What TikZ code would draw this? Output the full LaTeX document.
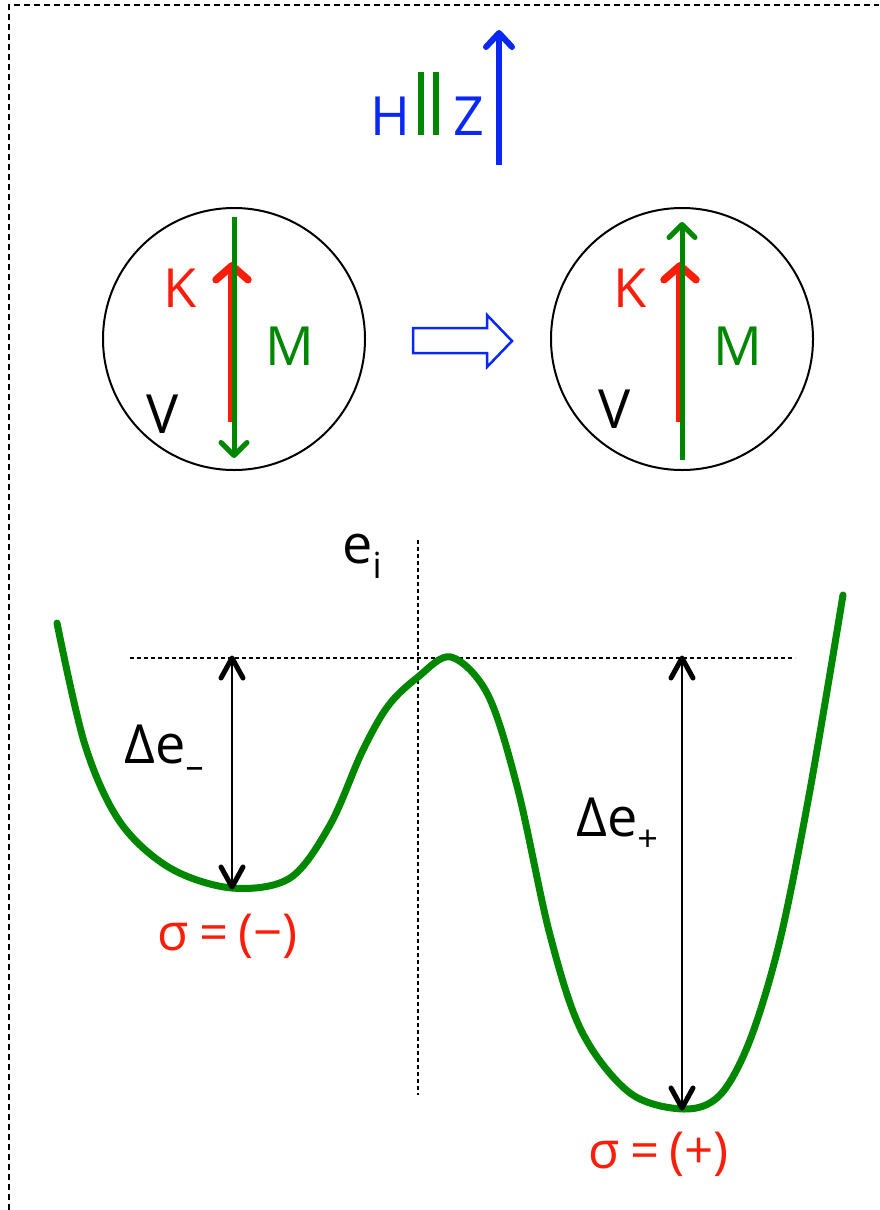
\documentclass[tikz,border=0pt]{standalone}
\usepackage{fontspec}
\setmainfont{Open Sans}
\usetikzlibrary{arrows.meta}

\definecolor{fieldblue}{RGB}{10,40,245}
\definecolor{spingreen}{RGB}{0,135,0}
\definecolor{orbred}{RGB}{250,30,10}

\newcommand{\lowidx}[1]{\raisebox{-0.28em}{\fontsize{36}{38}\selectfont #1}}

\begin{document}
\begin{tikzpicture}[
    x=1pt, y=-1pt,
    big/.style={font=\fontsize{54}{58}\selectfont, inner sep=0pt, anchor=base},
    ring/.style={draw, line width=2pt},
    spinarrow/.style={line width=5pt, spingreen, -{Straight Barb[length=13pt, width=26pt, round]}},
    orbarrow/.style={line width=7.5pt, orbred, -{Straight Barb[length=14pt, width=32pt, round]}},
    axis/.style={line width=1.3pt, dash pattern=on 4pt off 3pt},
    gap/.style={line width=2pt},
    chev/.style={line width=5pt, line cap=round, line join=round},
    frame/.style={line width=1.5pt, dash pattern=on 6pt off 4pt}
]
\useasboundingbox (0,0) rectangle (879,1210);

% Frame
\draw[frame] (9,1210) -- (9,5) -- (879,5);

% Field direction
\node[big, text=fieldblue] (hlab) at (390,135) {H};
\node[big, text=fieldblue] (zlab) at (469,135) {Z};
\draw[line width=5.5pt, spingreen] (421,72) -- (421,135);
\draw[line width=5.5pt, spingreen] (436,72) -- (436,135);
\coordinate (hbot) at (499,165);
\coordinate (htop) at (499,30);
\draw[line width=6pt, fieldblue, -{Straight Barb[length=14pt, width=26pt, round]}] (hbot) -- (htop);

% Left atom
\node[ring, circle, minimum size=262pt] (atomL) at (234,339) {};
\coordinate (kLbot) at (232,422);
\coordinate (kLtop) at (232,262);
\coordinate (mLtop) at (234,217);
\coordinate (mLbot) at (234,458);
\draw[orbarrow] (kLbot) -- (kLtop);
\draw[spinarrow] (mLtop) -- (mLbot);
\node[big, text=orbred] (kL) at (180,307) {K};
\node[big, text=spingreen] (mL) at (290,365) {M};
\node[big] (vL) at (163,433) {V};

% Transition
\draw[fieldblue, line width=2.5pt, line join=miter] (413,328) -- (487,328) -- (487,315) -- (512,341) -- (487,367) -- (487,353) -- (413,353) -- cycle;

% Right atom
\node[ring, circle, minimum size=262pt] (atomR) at (682,339) {};
\coordinate (kRbot) at (680,422);
\coordinate (kRtop) at (680,262);
\coordinate (mRbot) at (682,460);
\coordinate (mRtop) at (682,222);
\draw[orbarrow] (kRbot) -- (kRtop);
\draw[spinarrow] (mRbot) -- (mRtop);
\node[big, text=orbred] (kR) at (630,307) {K};
\node[big, text=spingreen] (mR) at (738,365) {M};
\node[big] (vR) at (615,428) {V};

% Energy axes
\draw[axis] (418,540) -- (418,1095);
\draw[axis] (130,658) -- (795,658);
\node[big] (elab) at (362,563) {e\lowidx{i}};

% Energy curve
\draw[spingreen, line width=7pt, line cap=round, line join=round] plot[smooth, tension=0.55] coordinates {
  (57,623) (85,745) (120,822) (170,868) (232,888) (290,878)
  (330,825) (362,752) (388,706) (418,677) (451,657) (488,695)
  (518,790) (550,935) (582,1032) (630,1093) (684,1109)
  (720,1095) (750,1040) (780,940) (810,790) (843,595)};

% Gaps
\coordinate (topL) at (232,658);
\coordinate (minL) at (232,887);
\coordinate (topR) at (682,658);
\coordinate (minR) at (682,1108);
\draw[gap] (topL) -- (minL);
\draw[gap] (topR) -- (minR);
\draw[chev] (topL) ++(-11,20) -- (topL) -- ++(11,20);
\draw[chev] (minL) ++(-11,-20) -- (minL) -- ++(11,-20);
\draw[chev] (topR) ++(-11,20) -- (topR) -- ++(11,20);
\draw[chev] (minR) ++(-11,-20) -- (minR) -- ++(11,-20);
\node[big] (deL) at (164,763) {Δe\lowidx{–}};
\node[big] (deR) at (617,836) {Δe\lowidx{+}};

% States
\node[big, text=orbred, font=\fontsize{51}{55}\selectfont] (sigL) at (228,950) {σ\hspace{0.2em}=\hspace{0.2em}(−)};
\node[big, text=orbred, font=\fontsize{51}{55}\selectfont] (sigR) at (659,1168) {σ\hspace{0.2em}=\hspace{0.2em}(+)};

\end{tikzpicture}
\end{document}
